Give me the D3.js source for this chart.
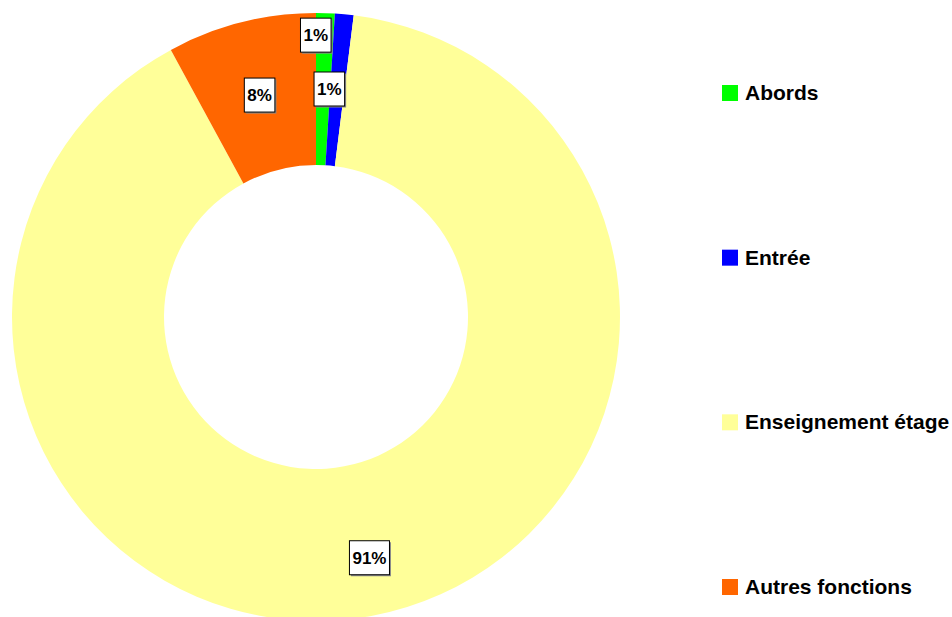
<!DOCTYPE html>
<html>
<head>
<meta charset="utf-8">
<script src="https://cdn.jsdelivr.net/npm/d3@7"></script>
<style>
  html, body { margin: 0; padding: 0; background: #fff; }
  svg { display: block; }
</style>
</head>
<body>
<svg id="chart" width="952" height="617"></svg>
<script>
// Répartition par fonction (parts en %)
const categories = ["Abords", "Entrée", "Enseignement étage", "Autres fonctions"];
const shares = [1, 1, 91, 8];
const colors = ["#00FF00", "#0000FF", "#FFFF99", "#FF6600"];

// Label placement along the ring (radius) and small horizontal nudges
const labelRadius = { "Abords": 282, "Entrée": 229, "Enseignement étage": 245, "Autres fonctions": 229 };
const labelNudge = { "Abords": -9, "Entrée": -8, "Enseignement étage": 8, "Autres fonctions": 0 };

const svg = d3.select("#chart");
const cx = 316, cy = 317, outerR = 304, innerR = 152;

const data = categories.map((name, i) => ({ name, value: shares[i], color: colors[i] }));

const pie = d3.pie().value(d => d.value).sort(null).startAngle(0).endAngle(2 * Math.PI);
const arcs = pie(data);
const arc = d3.arc().innerRadius(innerR).outerRadius(outerR);

const g = svg.append("g").attr("transform", `translate(${cx},${cy})`);

g.selectAll("path.slice")
  .data(arcs)
  .join("path")
  .attr("class", "slice")
  .attr("d", arc)
  .attr("fill", d => d.data.color);

// Data labels in white boxes
const fmt = v => `${Math.round(v)}%`;
const labels = g.selectAll("g.lbl")
  .data(arcs)
  .join("g")
  .attr("class", "lbl")
  .attr("transform", d => {
    const r = labelRadius[d.data.name];
    const c = d3.arc().innerRadius(r).outerRadius(r).centroid(d);
    return `translate(${c[0] + labelNudge[d.data.name]},${c[1]})`;
  });

labels.append("text")
  .attr("text-anchor", "middle")
  .attr("y", 6)
  .attr("font-family", "'Liberation Sans', Arial, sans-serif")
  .attr("font-weight", "bold")
  .attr("font-size", 17)
  .attr("fill", "#000")
  .text(d => fmt(d.data.value));

labels.each(function () {
  const t = d3.select(this).select("text");
  const w = t.node().getComputedTextLength();
  const bw = w + 6, bh = 34;
  d3.select(this).insert("rect", "text")
    .attr("x", -bw / 2 + 1.5).attr("y", -bh / 2 + 1.5)
    .attr("width", bw).attr("height", bh)
    .attr("fill", "#8a8a8a");
  d3.select(this).insert("rect", "text")
    .attr("x", -bw / 2).attr("y", -bh / 2)
    .attr("width", bw).attr("height", bh)
    .attr("fill", "#fff")
    .attr("stroke", "#000")
    .attr("stroke-width", 1);
});

// Legend
const legendY = d3.scalePoint().domain(categories).range([93, 587]);
const legend = svg.append("g");
const items = legend.selectAll("g")
  .data(data)
  .join("g")
  .attr("transform", d => `translate(722,${legendY(d.name)})`);

items.append("rect")
  .attr("x", 0).attr("y", -8)
  .attr("width", 16).attr("height", 16)
  .attr("fill", d => d.color);

items.append("text")
  .attr("x", 23).attr("y", 7)
  .attr("font-family", "'Liberation Sans', Arial, sans-serif")
  .attr("font-weight", "bold")
  .attr("font-size", 21)
  .attr("fill", "#000")
  .text(d => d.name);
</script>
</body>
</html>
